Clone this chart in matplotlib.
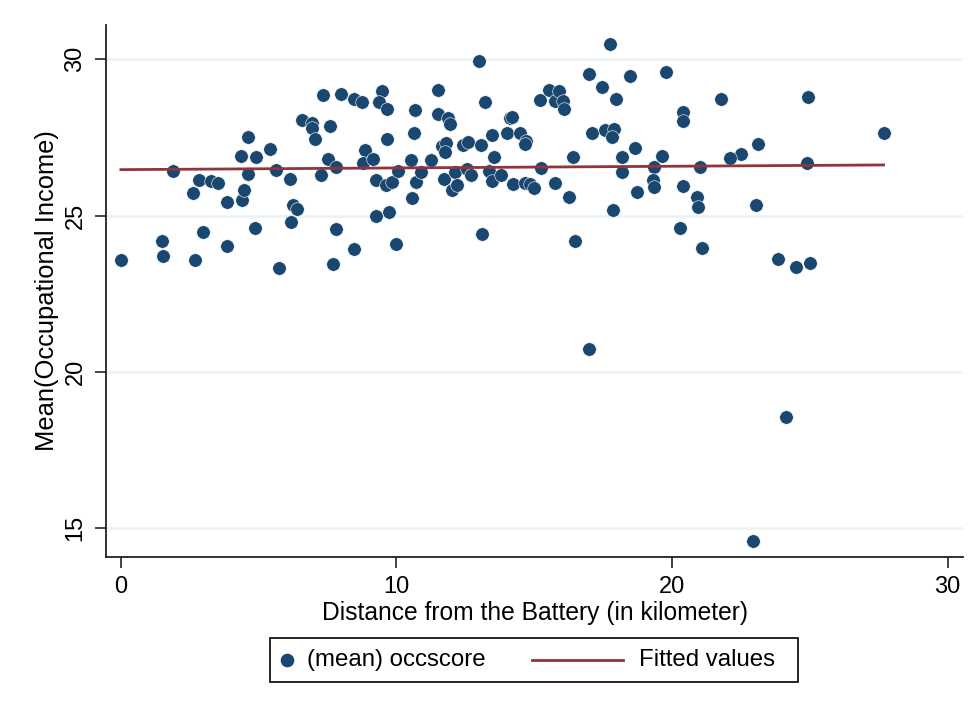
import matplotlib
matplotlib.use("Agg")
import matplotlib.pyplot as plt
from matplotlib.lines import Line2D
from matplotlib.offsetbox import AnchoredOffsetbox, HPacker, TextArea, DrawingArea

plt.rcParams['font.family'] = ['Liberation Sans', 'DejaVu Sans']

# Neighbourhood-level means: distance (km) and mean occupational income score
distance_km = [
    0.00, 1.88, 1.48, 1.54, 2.69, 2.62, 2.84, 2.97, 3.27, 3.53,
    3.86, 3.86, 4.40, 4.46, 4.60, 4.37, 4.63, 4.91, 4.85, 5.40,
    5.64, 5.73, 6.15, 6.23, 6.39, 6.17, 6.59, 6.94, 6.92, 7.03,
    7.33, 7.59, 7.27, 7.53, 7.82, 7.82, 7.71, 8.00, 8.46, 8.74,
    8.46, 9.47, 9.36, 9.64, 9.66, 8.85, 8.80, 9.15, 9.26, 9.61,
    9.85, 10.07, 9.26, 9.74, 10.00, 10.52, 10.68, 10.65, 10.57, 10.72,
    10.90, 11.24, 11.49, 11.49, 11.86, 11.94, 11.64, 11.80, 11.77, 11.72,
    12.12, 12.00, 12.18, 12.40, 12.58, 12.57, 12.70, 13.01, 13.21, 13.08,
    13.09, 13.36, 13.47, 13.48, 13.55, 13.78, 14.01, 14.12, 14.20, 14.24,
    14.47, 14.69, 14.68, 14.65, 14.85, 15.00, 15.23, 15.21, 15.55, 15.74,
    15.90, 16.04, 16.07, 15.74, 16.27, 16.39, 16.48, 17.00, 17.08, 17.46,
    17.76, 17.58, 17.90, 17.83, 17.98, 18.18, 18.19, 17.86, 18.46, 18.66,
    18.73, 19.35, 19.32, 19.36, 19.65, 19.79, 20.41, 20.39, 20.41, 20.28,
    17.00, 24.13, 22.95, 21.77, 24.93, 27.68, 23.13, 22.52, 22.12, 21.02,
    24.91, 20.90, 20.94, 23.05, 21.09, 23.86, 24.50, 25.00,
]
mean_occscore = [
    23.59, 26.42, 24.18, 23.71, 23.57, 25.71, 26.13, 24.47, 26.11, 26.04,
    25.45, 24.01, 25.49, 25.81, 26.34, 26.90, 27.52, 26.89, 24.60, 27.13,
    26.47, 23.33, 26.16, 25.35, 25.22, 24.80, 28.07, 27.97, 27.79, 27.46,
    28.85, 27.86, 26.31, 26.82, 26.54, 24.56, 23.45, 28.88, 28.74, 28.63,
    23.94, 28.98, 28.65, 28.40, 27.44, 27.11, 26.67, 26.81, 26.14, 25.98,
    26.07, 26.44, 25.00, 25.12, 24.08, 26.79, 28.37, 27.65, 25.57, 26.06,
    26.39, 26.79, 29.02, 28.26, 28.11, 27.92, 27.22, 27.33, 27.04, 26.18,
    26.39, 25.83, 25.97, 27.25, 27.35, 26.50, 26.29, 29.94, 28.65, 27.25,
    24.42, 26.44, 26.10, 27.59, 26.86, 26.29, 27.65, 28.13, 28.17, 26.02,
    27.65, 27.40, 27.30, 26.03, 26.02, 25.87, 26.51, 28.69, 29.02, 28.66,
    28.98, 28.66, 28.40, 26.03, 25.58, 26.86, 24.19, 29.53, 27.65, 29.10,
    30.49, 27.74, 27.76, 27.51, 28.74, 26.87, 26.38, 25.19, 29.46, 27.16,
    25.74, 26.56, 26.13, 25.92, 26.90, 29.59, 28.31, 28.04, 25.94, 24.60,
    20.73, 18.56, 14.58, 28.74, 28.79, 27.63, 27.29, 26.96, 26.85, 26.54,
    26.69, 25.60, 25.28, 25.34, 23.96, 23.61, 23.36, 23.48,
]

# Linear fit endpoints (fitted values over the observed distance range)
fit_x = [0.0, 27.68]
fit_y = [26.47, 26.62]

x_ticks = [0, 10, 20, 30]
y_ticks = [15, 20, 25, 30]

navy = '#1A476F'
maroon = '#90353B'
grid_col = '#EAF2F3'
fs_tick = 17
fs_xlab = 17.7
fs_ylab = 18.4
fs_leg = 17.3

fig = plt.figure(figsize=(9.77, 7.14), dpi=100)
ax = fig.add_axes([106 / 977, 1 - 557 / 714, (963 - 106) / 977, (557 - 25) / 714])

ax.scatter(distance_km, mean_occscore, s=95, color=navy, edgecolors='white',
           linewidths=0.4, zorder=3)
ax.plot(fit_x, fit_y, color=maroon, lw=2.0, zorder=4)

ax.set_xlim(-0.54, 30.56)
ax.set_ylim(14.07, 31.1)
ax.set_xticks(x_ticks)
ax.set_yticks(y_ticks)
ax.set_xticklabels([str(t) for t in x_ticks], fontsize=fs_tick)
ax.set_yticklabels([str(t) for t in y_ticks], fontsize=fs_tick, rotation=90, va='center')
ax.tick_params(axis='both', direction='out', length=8, width=1.2, color='#222222', pad=6)

ax.grid(axis='y', color=grid_col, lw=1.8, zorder=0)
ax.set_axisbelow(True)

for side in ('top', 'right'):
    ax.spines[side].set_visible(False)
for side in ('left', 'bottom'):
    ax.spines[side].set_color('#222222')
    ax.spines[side].set_linewidth(1.3)

ax.set_xlabel('Distance from the Battery (in kilometer)', fontsize=fs_xlab, labelpad=2)
ax.set_ylabel('Mean(Occupational Income)', fontsize=fs_ylab, labelpad=4)

# Legend row: marker key, label, line key, label
def spacer(w, h=1):
    return DrawingArea(w, h)

mk = DrawingArea(8.6, 12)
mk.add_artist(Line2D([4.3], [6], marker='o', ms=8.8, color=navy, ls=''))
ln = DrawingArea(65.5, 12)
ln.add_artist(Line2D([0, 65.5], [6, 6], color=maroon, lw=2.0))

txt_props = dict(fontsize=fs_leg, color='black')
row = HPacker(children=[
    spacer(8, 31.5), mk, spacer(10),
    TextArea('(mean) occscore', textprops=txt_props),
    spacer(34), ln, spacer(11),
    TextArea('Fitted values', textprops=txt_props),
    spacer(17),
], sep=0, pad=0, align='center')

box = AnchoredOffsetbox(loc='center', child=row, pad=0, borderpad=0,
                        frameon=True, bbox_to_anchor=(534 / 977, 1 - 660 / 714),
                        bbox_transform=fig.transFigure)
box.patch.set_edgecolor('black')
box.patch.set_linewidth(1.2)
box.patch.set_boxstyle('square', pad=0)
fig.add_artist(box)

fig.savefig('out.png', dpi=100, facecolor='white')
